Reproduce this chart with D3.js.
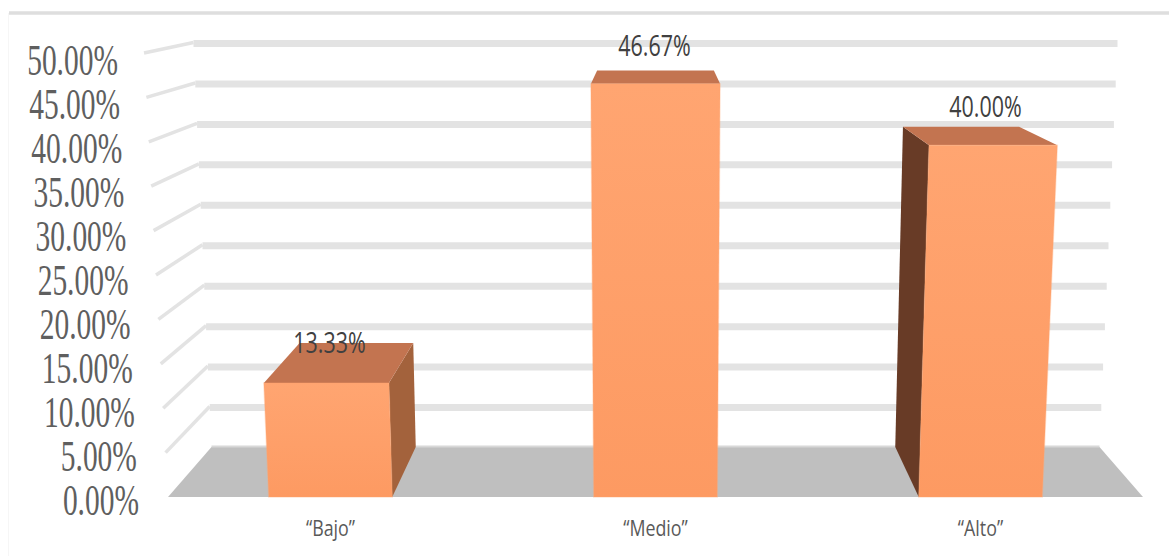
<!DOCTYPE html>
<html><head><meta charset="utf-8">
<script src="https://cdn.jsdelivr.net/npm/d3@7"></script>
<style>html,body{margin:0;padding:0;background:#fff}svg{display:block}</style>
</head><body><div id="c"></div>
<script>
const categories = ["“Bajo”", "“Medio”", "“Alto”"];
const values = [13.33, 46.67, 40.00];
const drawnHeights = [12.85, 46.55, 39.6]; // bar heights as read against the gridlines in the picture
const valueLabels = ["13.33%", "46.67%", "40.00%"];
const ticks = [0, 5, 10, 15, 20, 25, 30, 35, 40, 45, 50];
const tickLabels = ["0.00%","5.00%","10.00%","15.00%","20.00%","25.00%","30.00%","35.00%","40.00%","45.00%","50.00%"];

const W = 1169, H = 556;
const svg = d3.select("#c").append("svg").attr("width", W).attr("height", H);
const defs = svg.append("defs");
const g = defs.append("linearGradient").attr("id","barFront").attr("x1",0).attr("y1",0).attr("x2",0).attr("y2",1);
g.append("stop").attr("offset","0%").attr("stop-color","#FFA571");
g.append("stop").attr("offset","100%").attr("stop-color","#FD9A62");

// perspective projection: d = depth (0 front, 1 back), v = value, u = -1..1 across the floor
const yFront = d3.scaleLinear().domain([0,50]).range([497,53]);
const yBack  = d3.scaleLinear().domain([0,50]).range([447,42.5]);
const halfFront = d3.scaleLinear().domain([0,50]).range([487.5,511.5]);
const halfBack  = d3.scaleLinear().domain([0,50]).range([444,462]);
const cx = 655.5;
const band = d3.scaleBand().domain(categories).range([-1,1]).paddingInner(0.62).paddingOuter(0.31);
const P = (u,d,v) => {
  const x = cx + u*(d ? halfBack(v) : halfFront(v));
  const y = d ? yBack(v) : yFront(v);
  return [x,y];
};
const poly = pts => pts.map(p=>p.join(",")).join(" ");

// chart frame
svg.append("line").attr("x1",9).attr("x2",W).attr("y1",13).attr("y2",13).attr("stroke","#dedede").attr("stroke-width",3.5);
svg.append("line").attr("x1",8.5).attr("x2",8.5).attr("y1",13).attr("y2",H).attr("stroke","#f6f6f6").attr("stroke-width",1);

// floor
svg.append("polygon").attr("points",poly([P(-1,0,0),P(-1,1,0),P(1,1,0),P(1,0,0)])).attr("fill","#BFBFBF");
svg.append("line").attr("x1",P(-1,1,0)[0]).attr("x2",P(1,1,0)[0]).attr("y1",446.5).attr("y2",446.5).attr("stroke","#d8d8d8").attr("stroke-width",2);

// gridlines
const grid = svg.append("g").attr("fill","none").attr("stroke","#E3E3E3");
ticks.filter(t=>t>0).forEach(t=>{
  grid.append("line").attr("x1",P(-1,1,t)[0]).attr("x2",P(1,1,t)[0])
    .attr("y1",P(-1,1,t)[1]+1).attr("y2",P(-1,1,t)[1]+1).attr("stroke-width",7);
  grid.append("line").attr("x1",P(-1,0,t)[0]).attr("x2",P(-1,1,t)[0])
    .attr("y1",P(-1,0,t)[1]).attr("y2",P(-1,1,t)[1]).attr("stroke-width",3.5);
});

// bars
categories.forEach((c,i)=>{
  const v = drawnHeights[i], a = band(c), b = a + band.bandwidth();
  const gb = svg.append("g");
  if (P(a,1,0)[0] < P(a,0,0)[0]) {
    gb.append("polygon").attr("fill","#683B26")
      .attr("points",poly([P(a,0,0),P(a,1,0),P(a,1,v),P(a,0,v)]));
  }
  if (P(b,1,0)[0] > P(b,0,0)[0]) {
    gb.append("polygon").attr("fill","#A3623C")
      .attr("points",poly([P(b,0,0),P(b,1,0),P(b,1,v),P(b,0,v)]));
  }
  gb.append("polygon").attr("fill","#C37450")
    .attr("points",poly([P(a,0,v),P(a,1,v),P(b,1,v),P(b,0,v)]));
  gb.append("polygon").attr("fill","url(#barFront)").attr("stroke","#FFA571").attr("stroke-opacity",0.3).attr("stroke-width",1.5)
    .attr("points",poly([P(a,0,0),P(a,0,v),P(b,0,v),P(b,0,0)]));
});

// stretched text helper
function txt(x,y,s,size,fam,col,sx,anchor){
  svg.append("text").attr("transform",`translate(${x},${y}) scale(${sx},1)`)
    .attr("text-anchor",anchor).attr("font-family",fam).attr("font-size",size).attr("fill",col).text(s);
}

// value axis labels
const tickY = d3.scaleLinear().domain([0,50]).range([515,75]);
const tickX = d3.scaleLinear().domain([0,50]).range([139,118]);
ticks.forEach((t,i)=> txt(tickX(t),tickY(t),tickLabels[i],44,"Liberation Serif","#5f5f5f",0.67,"end"));

// data labels (positioned relative to the back edge of each bar's top)
const labelGap = [-10, 14, 10];
const labelShift = [-1, -1, 5];
categories.forEach((c,i)=>{
  const a = band(c)+band.bandwidth()/2;
  const top = P(a,1,drawnHeights[i]);
  const x = P(a,0,0)[0] + labelShift[i];
  txt(x, top[1]-labelGap[i], valueLabels[i], 29, "Open Sans", "#404040", 0.74, "middle");
});

// category labels
categories.forEach((c,i)=>{
  const a = band(c)+band.bandwidth()/2;
  txt(P(a,0,0)[0], 535.5, c, 21, "Open Sans", "#595959", 0.85, "middle");
});
</script></body></html>
